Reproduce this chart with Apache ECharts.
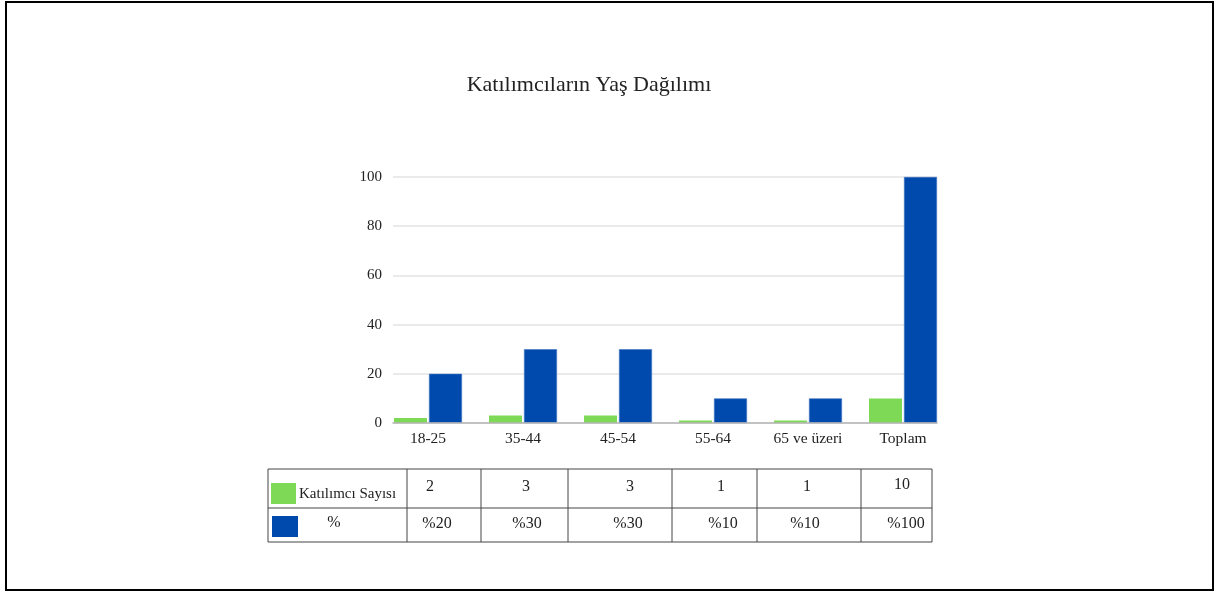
<!DOCTYPE html>
<html>
<head>
<meta charset="utf-8">
<script src="https://cdn.jsdelivr.net/npm/echarts@6/dist/echarts.min.js"></script>
<style>
  html, body { margin: 0; padding: 0; background: #fff; }
  #chart { width: 1215px; height: 592px; }
</style>
</head>
<body>
<div id="chart"></div>
<script>
// chart data
const categories = ["18-25", "35-44", "45-54", "55-64", "65 ve üzeri", "Toplam"];
const counts = [2, 3, 3, 1, 1, 10];
const percents = [20, 30, 30, 10, 10, 100];
const seriesNames = ["Katılımcı Sayısı", "%"];
const yTicks = [0, 20, 40, 60, 80, 100];
const titleText = "Katılımcıların Yaş Dağılımı";

// layout of the table under the chart
const tableCols = [268, 407, 481, 568, 672, 757, 861, 932];
const tableRows = [469, 508, 542];
const row1TextX = [430, 526, 630, 721, 807, 902];
const row2TextX = [437, 527, 628, 723, 805, 906];

const GREEN = "#7ed957";
const BLUE = "#004aad";
const FONT = "'Liberation Serif', 'DejaVu Serif', serif";

const myChart = echarts.init(document.getElementById("chart"));

let graphics = [];
// outer frame
graphics.push({
  type: "rect",
  shape: { x: 6, y: 2, width: 1207, height: 588 },
  style: { fill: "none", stroke: "#000", lineWidth: 2 },
  silent: true
});
// title
graphics.push({
  type: "text",
  x: 589,
  y: 85,
  style: {
    text: titleText,
    font: "22px " + FONT,
    fill: "#222",
    align: "center",
    verticalAlign: "middle"
  }
});
// table lines
tableRows.forEach(y => {
  graphics.push({
    type: "line",
    shape: { x1: tableCols[0], y1: y, x2: tableCols[tableCols.length - 1], y2: y },
    style: { stroke: "#444", lineWidth: 1 }
  });
});
tableCols.forEach(x => {
  graphics.push({
    type: "line",
    shape: { x1: x, y1: tableRows[0], x2: x, y2: tableRows[tableRows.length - 1] },
    style: { stroke: "#444", lineWidth: 1 }
  });
});
// legend swatches + row headers
graphics.push({
  type: "rect",
  shape: { x: 271, y: 483, width: 25, height: 21 },
  style: { fill: GREEN }
});
graphics.push({
  type: "rect",
  shape: { x: 272, y: 516, width: 26, height: 21 },
  style: { fill: BLUE }
});
graphics.push({
  type: "text",
  x: 299,
  y: 494,
  style: { text: seriesNames[0], font: "15px " + FONT, fill: "#222", align: "left", verticalAlign: "middle" }
});
graphics.push({
  type: "text",
  x: 334,
  y: 523,
  style: { text: seriesNames[1], font: "16px " + FONT, fill: "#222", align: "center", verticalAlign: "middle" }
});
// table values
counts.forEach((v, i) => {
  graphics.push({
    type: "text",
    x: row1TextX[i],
    y: v >= 10 ? 485 : 487,
    style: { text: String(v), font: "16px " + FONT, fill: "#222", align: "center", verticalAlign: "middle" }
  });
});
percents.forEach((v, i) => {
  graphics.push({
    type: "text",
    x: row2TextX[i],
    y: 524,
    style: { text: "%" + v, font: "16px " + FONT, fill: "#222", align: "center", verticalAlign: "middle" }
  });
});

let option = {
  backgroundColor: "#fff",
  animation: false,
  textStyle: { fontFamily: FONT },
  grid: [
    // grid for gridlines / y axis
    { left: 393, right: 278, top: 177, bottom: 169, containLabel: false },
    // grid for the bars
    { left: 380.5, right: 264.5, top: 177, bottom: 169, containLabel: false }
  ],
  xAxis: [
    {
      type: "category",
      gridIndex: 0,
      data: categories,
      axisLine: { show: true, lineStyle: { color: "#b5b5b5", width: 1.5 } },
      axisTick: { show: false },
      axisLabel: { show: false },
      z: 5
    },
    {
      type: "category",
      gridIndex: 1,
      data: categories,
      axisLine: { show: false },
      axisTick: { show: false },
      axisLabel: {
        color: "#222",
        fontSize: 15.5,
        fontFamily: FONT,
        margin: 8,
        interval: 0
      }
    }
  ],
  yAxis: [
    {
      type: "value",
      gridIndex: 0,
      min: yTicks[0],
      max: yTicks[yTicks.length - 1],
      interval: yTicks[1] - yTicks[0],
      axisLine: { show: false },
      axisTick: { show: false },
      axisLabel: { color: "#222", fontSize: 15, fontFamily: FONT, margin: 11 },
      splitLine: { lineStyle: { color: "#e3e3e3", width: 1.5 } }
    },
    {
      type: "value",
      gridIndex: 1,
      min: yTicks[0],
      max: yTicks[yTicks.length - 1],
      interval: yTicks[1] - yTicks[0],
      show: false
    }
  ],
  series: [
    {
      name: seriesNames[0],
      type: "bar",
      xAxisIndex: 1,
      yAxisIndex: 1,
      data: counts,
      barWidth: 33,
      barGap: "6%",
      itemStyle: { color: GREEN }
    },
    {
      name: seriesNames[1],
      type: "bar",
      xAxisIndex: 1,
      yAxisIndex: 1,
      data: percents,
      barWidth: 33,
      itemStyle: { color: BLUE, borderColor: "#3f73c4", borderWidth: 0.6 }
    }
  ],
  graphic: graphics
};

myChart.setOption(option);
</script>
</body>
</html>
